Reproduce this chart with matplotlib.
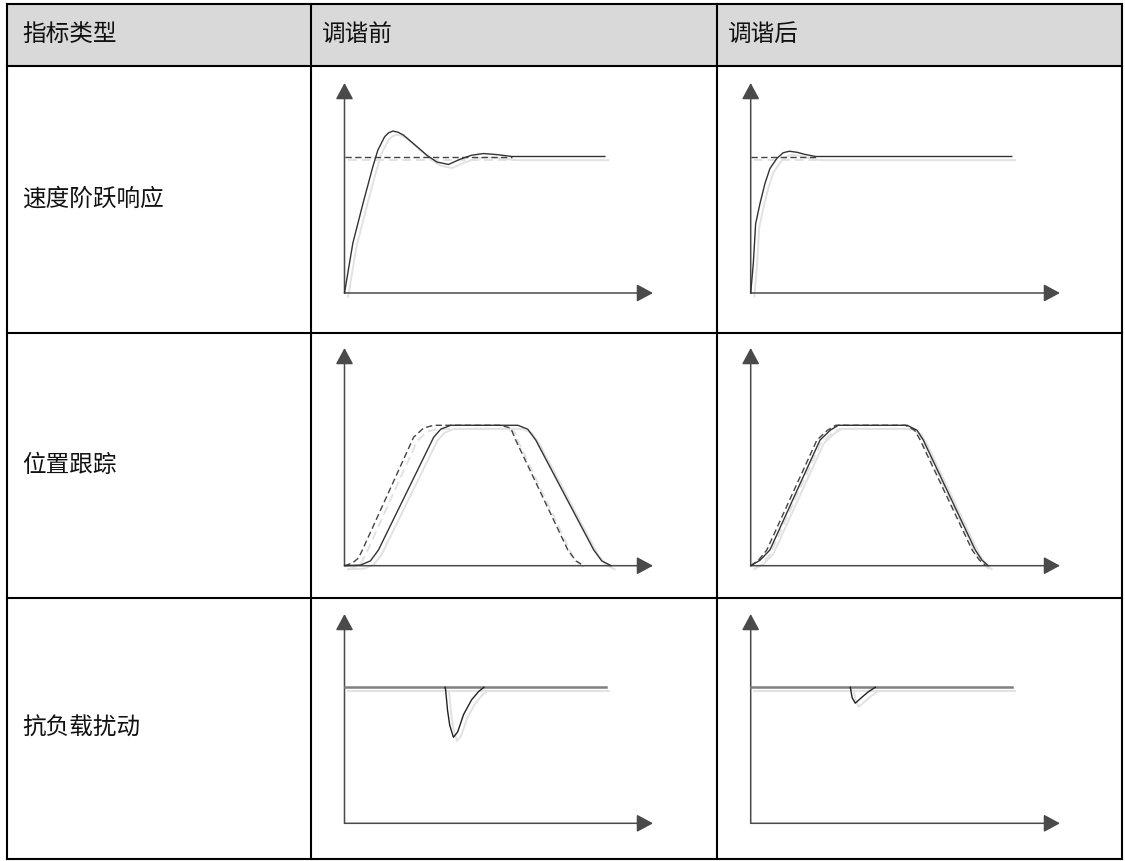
import matplotlib
matplotlib.use('Agg')
import matplotlib.pyplot as plt
from matplotlib.patches import Rectangle
import matplotlib.transforms as mtransforms

plt.rcParams['font.family'] = ['Noto Sans CJK SC', 'DejaVu Sans']

# ---------------- data ----------------
headers = ['指标类型', '调谐前', '调谐后']
row_labels = ['速度阶跃响应', '位置跟踪', '抗负载扰动']

# speed step response (time units 0..100, value units 0..100)
step_set_level = 65
step_before_t = [0, 2.7, 6.0, 9.2, 10.8, 13, 14.3, 15.7, 17.3, 19.1, 22.3, 26.7, 29.9,
                 33.7, 37.3, 41.2, 45, 49.4, 54.3, 84.4]
step_before_v = [0, 23.7, 42.7, 60.2, 68, 74.4, 76.3, 77.1, 76.6, 75.2, 71.2, 65.6, 62.4,
                 61.2, 63.6, 65.6, 66.4, 65.9, 65, 65]
step_before_set_t = [0, 54.3]

step_after_t = [0, 0.84, 1.6, 3.0, 4.6, 6.2, 8.4, 10.5, 12.5, 15, 17.5, 21, 84.4]
step_after_v = [0, 14, 33, 42.6, 52.1, 59.2, 64, 66.8, 67.5, 67, 66, 65, 65]
step_after_set_t = [0, 21]

# position tracking
pos_before_ref_t = [0, 2.6, 4.5, 5.8, 22.4, 25.6, 28.9, 50.6, 53.9, 55.5, 72.4, 75, 77.6]
pos_before_ref_v = [0, 1.2, 3.5, 7.2, 59, 63.2, 64.5, 64.5, 63.2, 57.7, 7.2, 2.2, 0]
pos_before_act_t = [0, 5.2, 8.4, 11, 28.9, 31.2, 34.4, 56.2, 59.4, 62, 80.8, 83.4, 86.4]
pos_before_act_v = [0, 0.3, 2.2, 7.2, 59, 62.7, 64.5, 64.5, 62.7, 57.7, 7.2, 2.2, 0]

pos_after_ref_t = [0, 2.5, 5.2, 21.4, 24.8, 27.5, 50.0, 53.0, 54.8, 71.6, 74.0, 76.0]
pos_after_ref_v = [0, 2.5, 7.2, 57.7, 62.2, 64.5, 64.5, 62.2, 57.7, 7.2, 2.5, 0]
pos_after_act_t = [0, 3, 6.2, 22.4, 25.7, 28.3, 50.6, 53.8, 55.8, 72.6, 74.8, 76.8]
pos_after_act_v = [0, 2.5, 7.2, 57.7, 62.2, 64.5, 64.5, 62.2, 57.7, 7.2, 2.5, 0]

# load disturbance rejection
dist_level = 65
dist_before_span = [0, 84.7]
dist_before_t = [32.6, 32.8, 33.4, 34.1, 35.3, 36.7, 38.6, 41.2, 43.5, 45.2]
dist_before_v = [65, 63.5, 54, 46.9, 41.1, 43.7, 52, 59, 63, 65]
dist_after_span = [0, 84.4]
dist_after_t = [32.2, 32.8, 33.8, 36.1, 38, 40.3]
dist_after_v = [65, 60, 57.4, 60.4, 62.8, 65]

# ---------------- layout ----------------
W, H = 1125, 861
fig = plt.figure(figsize=(W / 100, H / 100), dpi=100)
bg = fig.add_axes([0, 0, 1, 1])
bg.set_xlim(0, W)
bg.set_ylim(H, 0)
bg.axis('off')

col_edges = [7, 311, 717, 1122]
row_edges = [4, 66, 333, 598, 859]

bg.add_patch(Rectangle((col_edges[0], row_edges[0]), col_edges[-1] - col_edges[0],
                       row_edges[1] - row_edges[0], facecolor='#d9d9d9', edgecolor='none', zorder=0))
for y in row_edges:
    bg.plot([col_edges[0], col_edges[-1]], [y, y], color='black', lw=1.5, solid_capstyle='projecting', zorder=2)
for x in col_edges:
    bg.plot([x, x], [row_edges[0], row_edges[-1]], color='black', lw=1.5, solid_capstyle='projecting', zorder=2)

text_pad = [15, 11, 11]
for i, h in enumerate(headers):
    bg.text(col_edges[i] + text_pad[i], (row_edges[0] + row_edges[1]) / 2 - 1, h,
            fontsize=17, va='center', ha='left', color='#111111')
for i, lab in enumerate(row_labels):
    bg.text(col_edges[0] + 15, (row_edges[i + 1] + row_edges[i + 2]) / 2, lab,
            fontsize=17, va='center', ha='left', color='#111111')

# mini chart axes: origin (px) and arrow tips
col_origin_x = [344.5, 750.7]
col_tip_x = [653, 1060]
row_origin_y = [293, 565.7, 823.3]
row_top_y = [83, 348, 614]

DARK = '#333333'
SHADOW = '#e2e2e2'
AXC = '#4a4a4a'


def mini_axes(r, c):
    x0, x1 = col_origin_x[c], col_tip_x[c]
    y0, y1 = row_origin_y[r], row_top_y[r]
    ax = fig.add_axes([x0 / W, 1 - y0 / H, (x1 - x0) / W, (y0 - y1) / H])
    ax.set_xlim(0, 100)
    ax.set_ylim(0, 100)
    ax.axis('off')
    ax.patch.set_alpha(0)
    arrow = dict(arrowstyle='-|>,head_length=0.5,head_width=0.27', mutation_scale=20,
                 color=AXC, lw=1.1, shrinkA=0, shrinkB=0)
    ax.annotate('', xy=(100, 0), xytext=(0, 0), arrowprops=arrow, annotation_clip=False)
    ax.annotate('', xy=(0, 100), xytext=(0, 0), arrowprops=arrow, annotation_clip=False)
    sh = mtransforms.offset_copy(ax.transData, fig=fig, x=2.6, y=-2.6, units='points')
    return ax, sh


def draw(ax, sh, t, v, ls='-', color=DARK, lw=1.0, shadow=True):
    if shadow:
        ax.plot(t, v, ls=ls, color=SHADOW, lw=1.4, transform=sh, zorder=1, clip_on=False)
    ax.plot(t, v, ls=ls, color=color, lw=lw, zorder=3, clip_on=False)


DASH = (0, (4.5, 2.5))

# row 1: step response
ax, sh = mini_axes(0, 0)
draw(ax, sh, step_before_set_t, [step_set_level] * 2, ls=DASH, color='#444444')
draw(ax, sh, step_before_t, step_before_v)
ax, sh = mini_axes(0, 1)
draw(ax, sh, step_after_set_t, [step_set_level] * 2, ls=DASH, color='#444444')
draw(ax, sh, step_after_t, step_after_v)

# row 2: position tracking
ax, sh = mini_axes(1, 0)
draw(ax, sh, pos_before_ref_t, pos_before_ref_v, ls=DASH, color='#444444')
draw(ax, sh, pos_before_act_t, pos_before_act_v)
ax, sh = mini_axes(1, 1)
draw(ax, sh, pos_after_ref_t, pos_after_ref_v, ls=DASH, color='#444444')
draw(ax, sh, pos_after_act_t, pos_after_act_v)

# row 3: load disturbance
ax, sh = mini_axes(2, 0)
draw(ax, sh, dist_before_span, [dist_level] * 2, color='#808080', lw=1.8)
draw(ax, sh, dist_before_t, dist_before_v, color='#222222', lw=1.0)
ax, sh = mini_axes(2, 1)
draw(ax, sh, dist_after_span, [dist_level] * 2, color='#808080', lw=1.8)
draw(ax, sh, dist_after_t, dist_after_v, color='#222222', lw=1.0)

fig.savefig('out.png', dpi=100)
